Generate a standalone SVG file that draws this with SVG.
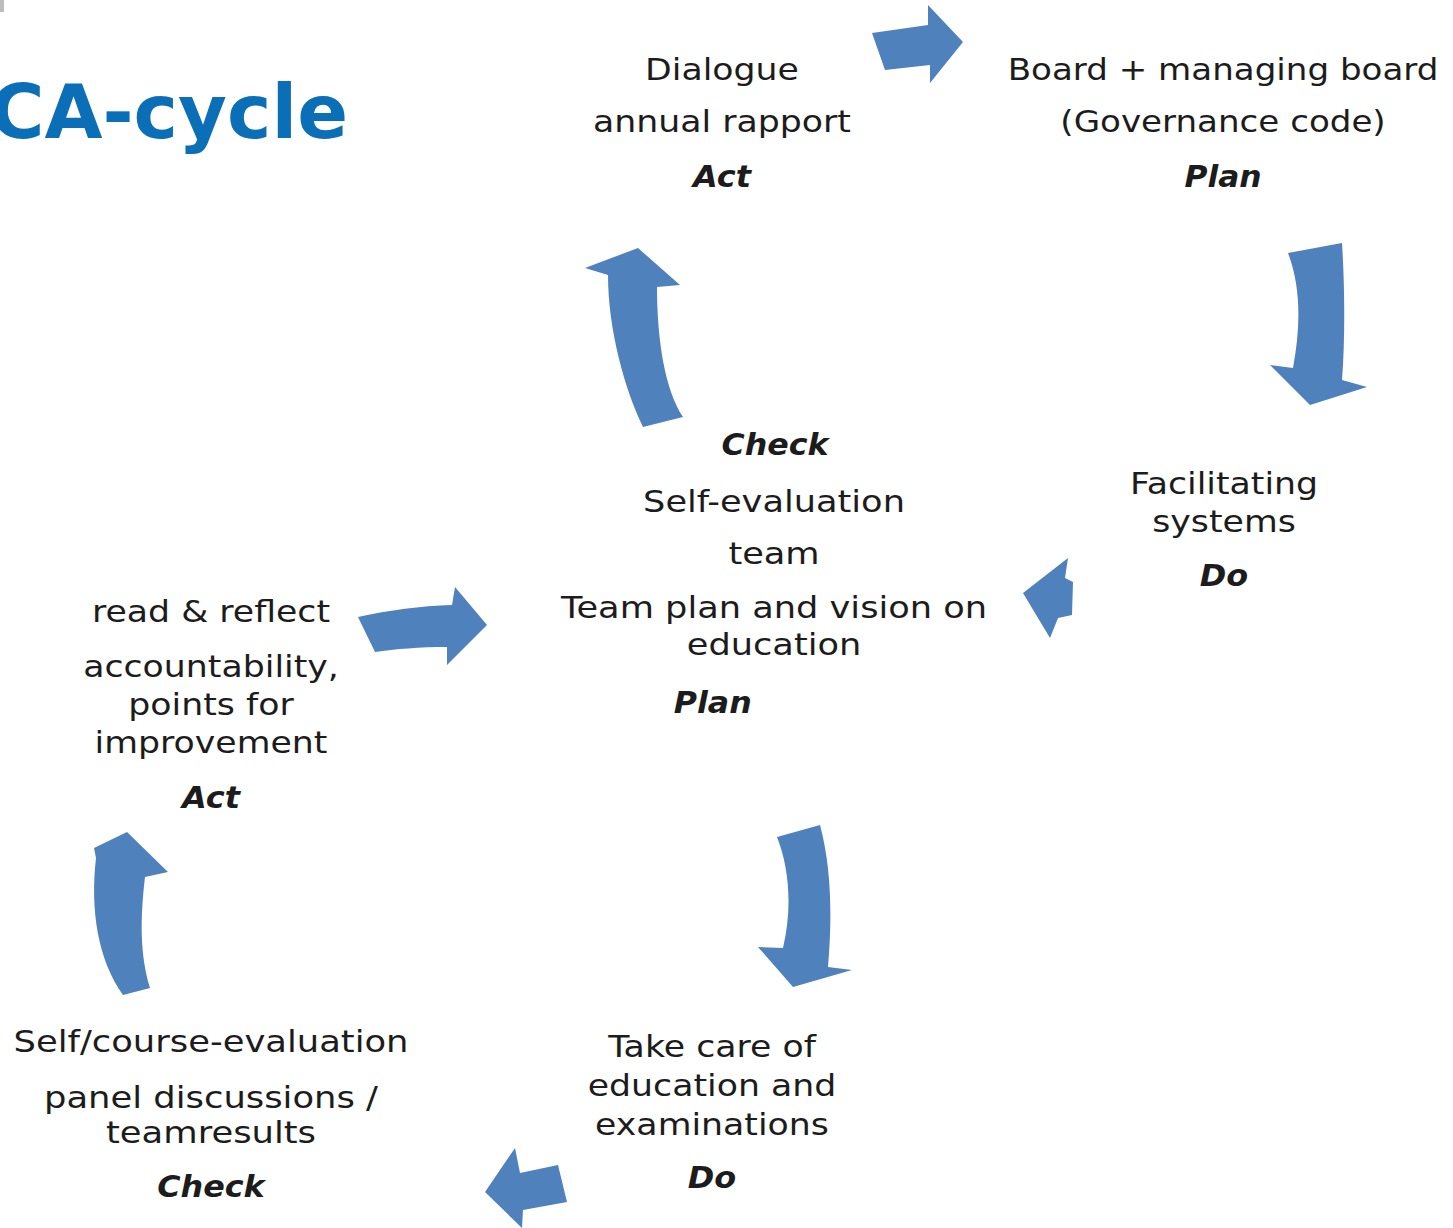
<svg xmlns="http://www.w3.org/2000/svg" width="1453" height="1228" viewBox="0 0 1453 1228">
<style>
.t{font-family:"DejaVu Sans",Verdana,sans-serif;font-size:31px;fill:#1c1c1c;text-anchor:middle}
.l{font-weight:bold;font-style:italic}
.arrow{fill:#4F81BD}
.title{font-family:"DejaVu Sans",Verdana,sans-serif;font-size:75px;font-weight:bold;fill:#0B6FB8;text-anchor:end}
</style>
<rect x="0" y="0" width="4" height="12" fill="#bdbdbd"/>
<text class="title" x="348" y="138">CA-cycle</text>
<g id="connectors">
<path class="arrow" d="M872,33 L928,25 L928,5 L963,42 L930,83 L930,65 L885,70 Z"/>
<path class="arrow" d="M1288,253 L1342,243 C1345,290 1345,340 1342,380 L1367,387 L1310,405 L1270,365 L1293,368 C1300,330 1302,290 1288,253 Z"/>
<path class="arrow" d="M638,248 L680,285 L657,287 C657,340 665,390 683,417 L643,427 C625,390 608,330 608,275 L585,268 Z"/>
<path class="arrow" d="M1068,558 L1065,578 L1073,582 L1072,615 L1058,618 L1050,638 L1023,593 Z"/>
<path class="arrow" d="M358,617 C390,610 420,606 452,605 L455,587 L487,625 L447,665 L447,647 C420,647 395,649 375,652 Z"/>
<path class="arrow" d="M777,837 L820,825 C832,870 832,920 828,967 L852,970 L793,987 L758,947 L783,948 C792,910 790,870 777,837 Z"/>
<path class="arrow" d="M127,832 L168,872 L145,877 C140,920 140,955 150,988 L123,995 C98,960 90,910 96,858 L94,848 Z"/>
<path class="arrow" d="M485,1192 L515,1148 L520,1173 L558,1165 L567,1202 L523,1210 L522,1228 Z"/>
</g>
<g id="act-top" transform="translate(722 0) scale(1.12 1)">
<text class="t" x="0" y="80">Dialogue</text>
<text class="t" x="0" y="132">annual rapport</text>
<text class="t l" x="0" y="187" transform="scale(0.92 1)">Act</text>
</g>
<g id="plan-top" transform="translate(1223 0) scale(1.1 1)">
<text class="t" x="0" y="80">Board + managing board</text>
<text class="t" x="0" y="132">(Governance code)</text>
<text class="t l" x="0" y="187" transform="scale(0.92 1)">Plan</text>
</g>
<g id="team" transform="translate(774 0) scale(1.135 1)">
<text class="t l" x="1" y="455" transform="scale(0.9 1)">Check</text>
<text class="t" x="0" y="512">Self-evaluation</text>
<text class="t" x="0" y="564">team</text>
<text class="t" x="0" y="618">Team plan and vision on</text>
<text class="t" x="0" y="655">education</text>
<text class="t l" x="-60" y="713" transform="scale(0.9 1)">Plan</text>
</g>
<g id="do-right" transform="translate(1224 0) scale(1.12 1)">
<text class="t" x="0" y="494">Facilitating</text>
<text class="t" x="0" y="532">systems</text>
<text class="t l" x="0" y="586" transform="scale(0.92 1)">Do</text>
</g>
<g id="act-left" transform="translate(211 0) scale(1.12 1)">
<text class="t" x="0" y="622">read &amp; reflect</text>
<text class="t" x="0" y="677">accountability,</text>
<text class="t" x="0" y="715">points for</text>
<text class="t" x="0" y="753">improvement</text>
<text class="t l" x="0" y="808" transform="scale(0.92 1)">Act</text>
</g>
<g id="check-bottom" transform="translate(211 0) scale(1.14 1)">
<text class="t" x="0" y="1052">Self/course-evaluation</text>
<text class="t" x="0" y="1108">panel discussions /</text>
<text class="t" x="0" y="1143">teamresults</text>
<text class="t l" x="0" y="1197" transform="scale(0.9 1)">Check</text>
</g>
<g id="do-bottom" transform="translate(712 0) scale(1.12 1)">
<text class="t" x="0" y="1057">Take care of</text>
<text class="t" x="0" y="1096">education and</text>
<text class="t" x="0" y="1135">examinations</text>
<text class="t l" x="0" y="1188" transform="scale(0.92 1)">Do</text>
</g>
</svg>
